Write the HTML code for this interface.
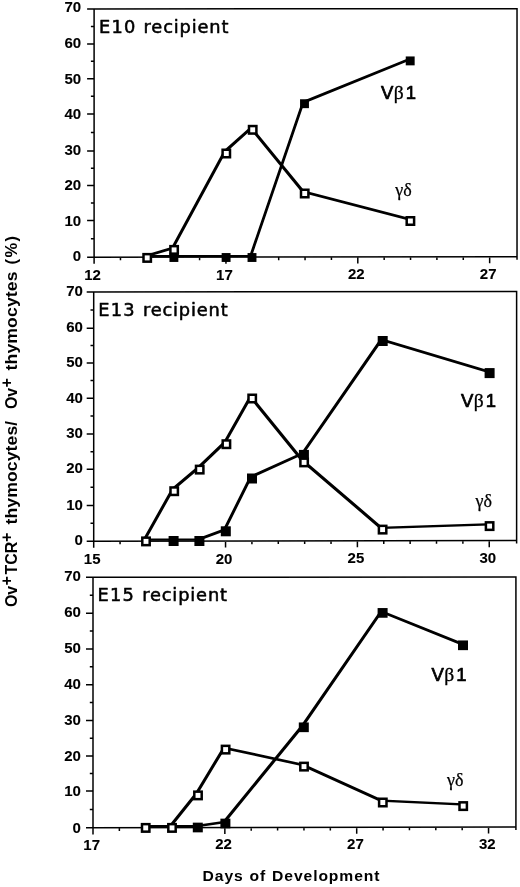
<!DOCTYPE html>
<html lang="en"><head><meta charset="utf-8"><title>TCR expression in thymocytes</title>
<style>
html,body{margin:0;padding:0;background:#fff}
svg{display:block;will-change:transform;transform:translateZ(0)}
.ax{stroke:#000;stroke-width:1.5;fill:none;stroke-linecap:butt}
.pl{fill:#000;stroke:none}
.os{fill:#fff;stroke:#000;stroke-width:2.5}
.fs{fill:#000;stroke:none}
text{fill:#000}
.tk{font-family:"Liberation Sans",sans-serif;font-weight:bold;font-size:15px;stroke:#000;stroke-width:.1}
.tt{font-family:"DejaVu Sans","Liberation Sans",sans-serif;font-size:17.8px;letter-spacing:1px;stroke:#000;stroke-width:.55;stroke-linejoin:round}
.yl{font-family:"Liberation Sans",sans-serif;font-weight:bold;font-size:16px}
.xl{font-family:"Liberation Sans",sans-serif;font-weight:bold;font-size:14px;letter-spacing:.8px;word-spacing:.6px}
.vb{font-family:"Liberation Sans",sans-serif;font-size:18.5px;stroke:#000;stroke-width:.7;stroke-linejoin:round}
.bt{font-family:"Liberation Serif",serif;font-size:19.5px;stroke:#000;stroke-width:.35}
.gk{font-family:"Liberation Serif",serif;font-size:18px;stroke:#000;stroke-width:.25}
</style></head><body>
<svg width="520" height="887" viewBox="0 0 520 887">
<defs><filter id="soft" x="0" y="0" width="100%" height="100%" filterUnits="objectBoundingBox"><feGaussianBlur stdDeviation="0.35"/></filter></defs>
<g filter="url(#soft)">
<rect width="520" height="887" fill="#fff"/>
<g>
<path class="ax" d="M87.1 8.9L517.02 8.8M517.02 8.05V259.65M87.1 257.2L517.02 256.65M94.1 8.9V263.8M90.9 26.4H94.1M87.1 43.9H94.1M90.9 61.3H94.1M87.1 78.7H94.1M90.9 96.35H94.1M87.1 114H94.1M90.9 132.45H94.1M87.1 150.9H94.1M90.9 168.25H94.1M87.1 185.6H94.1M90.9 203.05H94.1M87.1 220.5H94.1M90.9 238.85H94.1M120.47 257.17V260.37M146.84 257.13V260.33M173.21 257.1V260.3M199.58 257.06V260.26M225.95 257.03V263.63M252.32 256.99V260.19M278.69 256.96V260.16M305.06 256.93V260.13M331.43 256.89V260.09M357.8 256.86V263.46M384.17 256.82V260.02M410.54 256.79V259.99M436.91 256.75V259.95M463.28 256.72V259.92M489.65 256.69V263.29"/>
<text class="tk" text-anchor="end" x="81.2" y="12.4">70</text>
<text class="tk" text-anchor="end" x="81.2" y="47.55">60</text>
<text class="tk" text-anchor="end" x="81.2" y="84.05">50</text>
<text class="tk" text-anchor="end" x="81.2" y="119.15">40</text>
<text class="tk" text-anchor="end" x="81.2" y="155.3">30</text>
<text class="tk" text-anchor="end" x="81.2" y="189.85">20</text>
<text class="tk" text-anchor="end" x="81.2" y="226.1">10</text>
<text class="tk" text-anchor="end" x="81.2" y="261.3">0</text>
<text class="tk" text-anchor="middle" x="92.6" y="279.7">12</text>
<text class="tk" text-anchor="middle" x="224.45" y="279.53">17</text>
<text class="tk" text-anchor="middle" x="356.3" y="279.36">22</text>
<text class="tk" text-anchor="middle" x="488.15" y="279.19">27</text>
<text class="tt" x="99" y="32.9"><tspan style="letter-spacing:1.2px">E10 </tspan><tspan x="143.6" style="letter-spacing:.85px">recipient</tspan></text>
<path class="pl" d="M144.5 255L173.6 255L173.6 257.2L144.5 257.2ZM171.4 255L225.8 255L225.8 257.2L171.4 257.2ZM223.6 255L251.7 255L251.7 257.2L223.6 257.2ZM249.5 255L302 101.2L304.2 101.2L304.2 103.4L251.7 257.2L249.5 257.2ZM302 101.2L407.7 58.4L409.9 58.4L409.9 60.6L304.2 103.4L302 103.4Z"/>
<path class="pl" d="M144.5 255L171.4 247L173.6 247L173.6 249.2L146.7 257.2L144.5 257.2ZM171.4 247L223.6 150.6L225.8 150.6L225.8 152.8L173.6 249.2L171.4 249.2ZM223.6 150.6L250 126.9L252.2 126.9L252.2 129.1L225.8 152.8L223.6 152.8ZM250 126.9L252.2 126.9L304.2 190.6L304.2 192.8L302 192.8L250 129.1ZM302 190.6L304.2 190.6L409.9 218.1L409.9 220.3L407.7 220.3L302 192.8Z"/>
<rect class="fs" x="169.45" y="253.05" width="8.9" height="8.9"/>
<rect class="fs" x="221.65" y="253.05" width="8.9" height="8.9"/>
<rect class="fs" x="247.55" y="253.05" width="8.9" height="8.9"/>
<rect class="fs" x="300.05" y="99.25" width="8.9" height="8.9"/>
<rect class="fs" x="405.75" y="56.45" width="8.9" height="8.9"/>
<rect class="os" x="143.5" y="254.15" width="7.4" height="7.5"/>
<rect class="os" x="170.4" y="246.15" width="7.4" height="7.5"/>
<rect class="os" x="222.6" y="149.75" width="7.4" height="7.5"/>
<rect class="os" x="249" y="126.05" width="7.4" height="7.5"/>
<rect class="os" x="301" y="189.75" width="7.4" height="7.5"/>
<rect class="os" x="406.7" y="217.25" width="7.4" height="7.5"/>
<text x="381" y="98.6"><tspan class="vb">V</tspan><tspan class="bt" dx="0.3">β</tspan><tspan class="vb" dx="2.3">1</tspan></text>
<text class="gk" x="395.3" y="196">γδ</text>
</g>
<g>
<path class="ax" d="M86.7 292L516.62 291.5M516.62 290.75V543.5M86.7 541.2L516.62 540.5M93.7 292V547.8M90.5 310.1H93.7M86.7 328.2H93.7M90.5 345.6H93.7M86.7 363H93.7M90.5 380.6H93.7M86.7 398.2H93.7M90.5 416.1H93.7M86.7 434H93.7M90.5 451.65H93.7M86.7 469.3H93.7M90.5 487.35H93.7M86.7 505.4H93.7M90.5 523.3H93.7M120.07 541.16V544.36M146.44 541.11V544.31M172.81 541.07V544.27M199.18 541.03V544.23M225.55 540.98V547.58M251.92 540.94V544.14M278.29 540.89V544.09M304.66 540.85V544.05M331.03 540.81V544.01M357.4 540.76V547.36M383.77 540.72V543.92M410.14 540.68V543.88M436.51 540.63V543.83M462.88 540.59V543.79M489.25 540.55V547.15"/>
<text class="tk" text-anchor="end" x="82.9" y="296.2">70</text>
<text class="tk" text-anchor="end" x="82.9" y="332.2">60</text>
<text class="tk" text-anchor="end" x="82.9" y="367.1">50</text>
<text class="tk" text-anchor="end" x="82.9" y="402.7">40</text>
<text class="tk" text-anchor="end" x="82.9" y="437.9">30</text>
<text class="tk" text-anchor="end" x="82.9" y="473.4">20</text>
<text class="tk" text-anchor="end" x="82.9" y="509.7">10</text>
<text class="tk" text-anchor="end" x="82.9" y="544.7">0</text>
<text class="tk" text-anchor="middle" x="92.2" y="563.8">15</text>
<text class="tk" text-anchor="middle" x="224.05" y="563.58">20</text>
<text class="tk" text-anchor="middle" x="355.9" y="563.37">25</text>
<text class="tk" text-anchor="middle" x="487.75" y="563.15">30</text>
<text class="tt" x="98.3" y="315.6"><tspan style="letter-spacing:1.2px">E13 </tspan><tspan x="142.9" style="letter-spacing:.85px">recipient</tspan></text>
<path class="pl" d="M143.3 538.5L173.3 538.5L173.3 540.7L143.3 540.7ZM171.1 538.5L199.1 538.5L199.1 540.7L171.1 540.7ZM196.9 538.5L223.3 528.8L225.5 528.8L225.5 531L199.1 540.7L196.9 540.7ZM223.3 528.8L249.5 476L251.7 476L251.7 478.2L225.5 531L223.3 531ZM249.5 476L301.4 452.4L303.6 452.4L303.6 454.6L251.7 478.2L249.5 478.2ZM301.4 452.4L380.2 338.5L382.4 338.5L382.4 340.7L303.6 454.6L301.4 454.6ZM380.2 338.5L382.4 338.5L489.3 370.6L489.3 372.8L487.1 372.8L380.2 340.7Z"/>
<path class="pl" d="M143.3 538.5L171.5 488.3L173.7 488.3L173.7 490.5L145.5 540.7L143.3 540.7ZM171.5 488.3L197 466.7L199.2 466.7L199.2 468.9L173.7 490.5L171.5 490.5ZM197 466.7L223.7 441.3L225.9 441.3L225.9 443.5L199.2 468.9L197 468.9ZM223.7 441.3L249.5 395.6L251.7 395.6L251.7 397.8L225.9 443.5L223.7 443.5ZM249.5 395.6L251.7 395.6L303.6 459.5L303.6 461.7L301.4 461.7L249.5 397.8ZM301.4 459.5L303.6 459.5L382.1 526.7L382.1 528.9L379.9 528.9L301.4 461.7ZM379.9 526.7L486.9 523.2L489.1 523.2L489.1 525.4L382.1 528.9L379.9 528.9Z"/>
<rect class="fs" x="168.6" y="536" width="10" height="10"/>
<rect class="fs" x="194.4" y="536" width="10" height="10"/>
<rect class="fs" x="220.8" y="526.3" width="10" height="10"/>
<rect class="fs" x="247" y="473.5" width="10" height="10"/>
<rect class="fs" x="298.9" y="449.9" width="10" height="10"/>
<rect class="fs" x="377.7" y="336" width="10" height="10"/>
<rect class="fs" x="484.6" y="368.1" width="10" height="10"/>
<rect class="os" x="142.3" y="537.65" width="7.4" height="7.5"/>
<rect class="os" x="170.5" y="487.45" width="7.4" height="7.5"/>
<rect class="os" x="196" y="465.85" width="7.4" height="7.5"/>
<rect class="os" x="222.7" y="440.45" width="7.4" height="7.5"/>
<rect class="os" x="248.5" y="394.75" width="7.4" height="7.5"/>
<rect class="os" x="300.4" y="458.65" width="7.4" height="7.5"/>
<rect class="os" x="378.9" y="525.85" width="7.4" height="7.5"/>
<rect class="os" x="485.9" y="522.35" width="7.4" height="7.5"/>
<text x="461" y="407.1"><tspan class="vb">V</tspan><tspan class="bt" dx="0.3">β</tspan><tspan class="vb" dx="2.3">1</tspan></text>
<text class="gk" x="475.5" y="507.1">γδ</text>
</g>
<g>
<path class="ax" d="M86 577.3L515.92 576.9M515.92 576.15V829.9M86 827.8L515.92 826.9M93 577.3V834.4M89.8 595.25H93M86 613.2H93M89.8 631.05H93M86 648.9H93M89.8 666.8H93M86 684.7H93M89.8 702.6H93M86 720.5H93M89.8 738.2H93M86 755.9H93M89.8 773.5H93M86 791.1H93M89.8 809.45H93M119.37 827.74V830.94M145.74 827.69V830.89M172.11 827.63V830.83M198.48 827.58V830.78M224.85 827.52V834.12M251.22 827.46V830.66M277.59 827.41V830.61M303.96 827.35V830.55M330.33 827.29V830.49M356.7 827.24V833.84M383.07 827.18V830.38M409.44 827.13V830.33M435.81 827.07V830.27M462.18 827.01V830.21M488.55 826.96V833.56"/>
<text class="tk" text-anchor="end" x="80.9" y="581.45">70</text>
<text class="tk" text-anchor="end" x="80.9" y="617.3">60</text>
<text class="tk" text-anchor="end" x="80.9" y="653.4">50</text>
<text class="tk" text-anchor="end" x="80.9" y="689.2">40</text>
<text class="tk" text-anchor="end" x="80.9" y="725.3">30</text>
<text class="tk" text-anchor="end" x="80.9" y="760.8">20</text>
<text class="tk" text-anchor="end" x="80.9" y="795.8">10</text>
<text class="tk" text-anchor="end" x="80.9" y="833">0</text>
<text class="tk" text-anchor="middle" x="91.7" y="849.6">17</text>
<text class="tk" text-anchor="middle" x="223.55" y="849.32">22</text>
<text class="tk" text-anchor="middle" x="355.4" y="849.04">27</text>
<text class="tk" text-anchor="middle" x="487.25" y="848.76">32</text>
<text class="tt" x="97.6" y="600.8"><tspan style="letter-spacing:1.2px">E15 </tspan><tspan x="142.2" style="letter-spacing:.85px">recipient</tspan></text>
<path class="pl" d="M143 825L171.5 825L171.5 827.2L143 827.2ZM169.3 825L197.5 825L197.5 827.2L169.3 827.2ZM195.3 825L222.9 821L225.1 821L225.1 823.2L197.5 827.2L195.3 827.2ZM222.9 821L301.3 724.8L303.5 724.8L303.5 727L225.1 823.2L222.9 823.2ZM301.3 724.8L380.1 610.4L382.3 610.4L382.3 612.6L303.5 727L301.3 727ZM380.1 610.4L382.3 610.4L462.7 642.8L462.7 645L460.5 645L380.1 612.6Z"/>
<path class="pl" d="M143 825L171.5 825L171.5 827.2L143 827.2ZM169.3 825L195.3 792.5L197.5 792.5L197.5 794.7L171.5 827.2L169.3 827.2ZM195.3 792.5L222.9 746.7L225.1 746.7L225.1 748.9L197.5 794.7L195.3 794.7ZM222.9 746.7L225.1 746.7L303.5 763.7L303.5 765.9L301.3 765.9L222.9 748.9ZM301.3 763.7L303.5 763.7L382.3 799.6L382.3 801.8L380.1 801.8L301.3 765.9ZM380.1 799.6L382.3 799.6L462.7 803.2L462.7 805.4L460.5 805.4L380.1 801.8Z"/>
<rect class="fs" x="192.8" y="822.65" width="10" height="9.7"/>
<rect class="fs" x="220.4" y="818.65" width="10" height="9.7"/>
<rect class="fs" x="298.8" y="722.45" width="10" height="9.7"/>
<rect class="fs" x="377.6" y="608.05" width="10" height="9.7"/>
<rect class="fs" x="458" y="640.45" width="10" height="9.7"/>
<rect class="os" x="142" y="824.15" width="7.4" height="7.5"/>
<rect class="os" x="168.3" y="824.15" width="7.4" height="7.5"/>
<rect class="os" x="194.3" y="791.65" width="7.4" height="7.5"/>
<rect class="os" x="221.9" y="745.85" width="7.4" height="7.5"/>
<rect class="os" x="300.3" y="762.85" width="7.4" height="7.5"/>
<rect class="os" x="379.1" y="798.75" width="7.4" height="7.5"/>
<rect class="os" x="459.5" y="802.35" width="7.4" height="7.5"/>
<text x="431.5" y="680.9"><tspan class="vb">V</tspan><tspan class="bt" dx="0.3">β</tspan><tspan class="vb" dx="2.3">1</tspan></text>
<text class="gk" x="447" y="786.3">γδ</text>
</g>
<g transform="translate(16.9 607.1) rotate(-90)">
<text class="yl" id="yl0" x="0" y="0">Ov</text>
<text class="yl" id="yl1" x="21.6" y="-5.4" style="font-size:16px">+</text>
<text class="yl" id="yl2" x="32.5" y="0">TCR</text>
<text class="yl" id="yl3" x="65" y="-5.4" style="font-size:16px">+</text>
<text class="yl" id="yl4" transform="translate(82.5 0) scale(1.1 1)" style="letter-spacing:.12px">thymocytes</text>
<text class="yl" id="yl5" x="181.3" y="0" style="font-size:17px">/</text>
<text class="yl" id="yl6" x="198" y="0">Ov</text>
<text class="yl" id="yl7" x="219.6" y="-5.4" style="font-size:16px">+</text>
<text class="yl" id="yl8" transform="translate(236.7 0) scale(1.1 1)" style="letter-spacing:.12px">thymocytes</text>
<text class="yl" id="yl9" x="342.6" y="0" style="font-size:16.5px;letter-spacing:1.4px">(%)</text>
</g>
<text class="xl" id="xl" transform="translate(202.6 880.8) scale(1.12 1)">Days of Development</text>
</g>
</svg>
</body></html>
